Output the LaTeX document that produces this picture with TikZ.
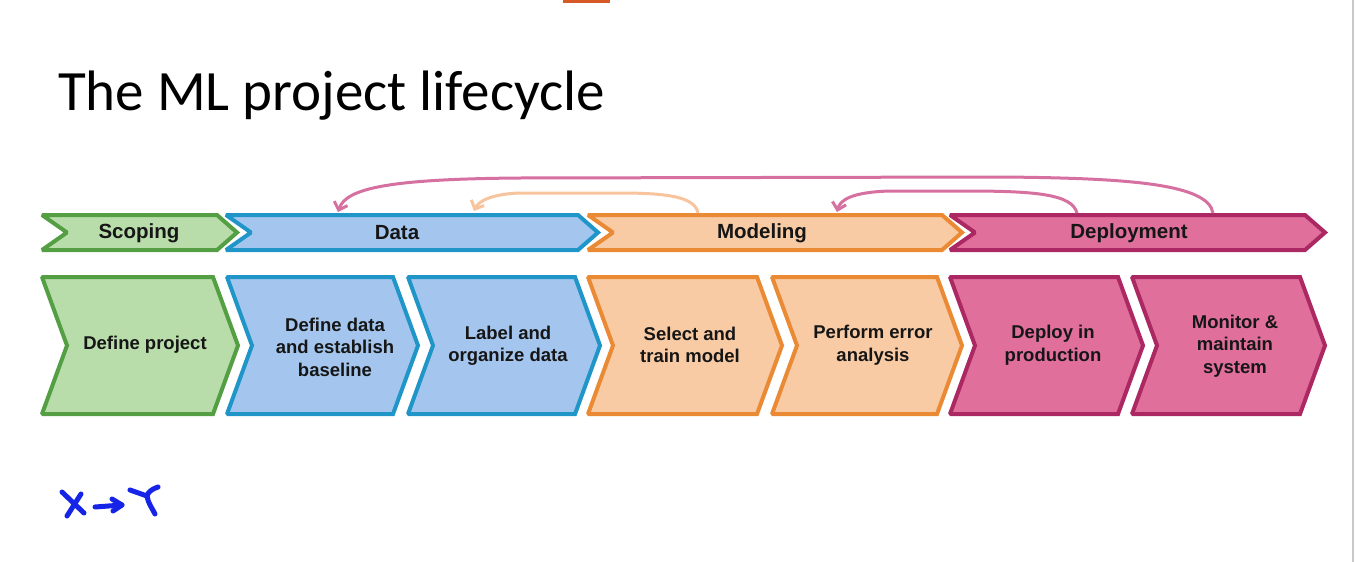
\documentclass[tikz,border=0pt]{standalone}
\usepackage{fontspec}
\setmainfont{Liberation Sans}
\newfontfamily\titlefont{Carlito}
\usetikzlibrary{arrows.meta}

\definecolor{inkdark}{RGB}{22,22,22}
\definecolor{greenfill}{RGB}{184,221,170}
\definecolor{greenline}{RGB}{84,158,68}
\definecolor{bluefill}{RGB}{164,198,238}
\definecolor{blueline}{RGB}{32,150,200}
\definecolor{orangefill}{RGB}{249,203,164}
\definecolor{orangeline}{RGB}{234,138,52}
\definecolor{pinkfill}{RGB}{224,111,156}
\definecolor{pinkline}{RGB}{172,40,98}
\definecolor{looppink}{RGB}{214,112,160}
\definecolor{looppeach}{RGB}{247,196,158}
\definecolor{penblue}{RGB}{22,36,232}
\definecolor{edgegray}{RGB}{200,200,200}
\definecolor{tabred}{RGB}{214,90,40}

% chevron: #1 style, #2 left x, #3 tip x, #4 top y, #5 bottom y, #6 notch depth, #7 tip depth
\newcommand\mlchev[7]{%
  \draw[#1] (#2,#4) -- ({#3-#7},#4) -- (#3,{(#4+#5)/2}) -- ({#3-#7},#5)
    -- (#2,#5) -- ({#2+#6},{(#4+#5)/2}) -- cycle;}

\tikzset{
  chevbase/.style={line width=4pt,line join=miter,miter limit=1.6},
  greenchev/.style={chevbase,fill=greenfill,draw=greenline},
  bluechev/.style={chevbase,fill=bluefill,draw=blueline},
  orangechev/.style={chevbase,fill=orangefill,draw=orangeline},
  pinkchev/.style={chevbase,fill=pinkfill,draw=pinkline},
  phase/.style={font=\bfseries\fontsize{20.5}{24}\selectfont,text=inkdark,anchor=center},
  task/.style={font=\bfseries\fontsize{18.5}{22.5}\selectfont,text=inkdark,align=center,anchor=center},
  loop/.style={line width=3pt,-{Straight Barb[length=7pt,width=14pt,line width=3pt]}},
  pen/.style={penblue,line width=5pt,line cap=round,line join=round}
}

\begin{document}
\begin{tikzpicture}[x=1pt,y=-1pt]
\useasboundingbox (0,0) rectangle (1366,562);
\fill[white] (0,0) rectangle (1366,562);
\draw[edgegray,line width=2pt] (1353,0) -- (1353,562);
\fill[tabred] (563,0) rectangle (610,3);

% title
\node[anchor=base west,inner sep=0pt,text=black,font=\titlefont\fontsize{57}{60}\selectfont] (title) at (58,110) {The ML project lifecycle};

% phase row
\mlchev{greenchev}{42}{237}{215}{250}{25}{20}
\mlchev{bluechev}{226}{598}{215}{250}{25}{20}
\mlchev{orangechev}{588}{962}{215}{250}{25}{20}
\mlchev{pinkchev}{950}{1325}{215}{250}{25}{20}
\node[phase] (scoping) at (139,233) {Scoping};
\node[phase] (data) at (397,233) {Data};
\node[phase] (modeling) at (762,233) {Modeling};
\node[phase] (deployment) at (1129,233) {Deployment};

% task row
\mlchev{greenchev}{42}{238}{277}{414}{25}{25}
\mlchev{bluechev}{227}{418}{277}{414}{25}{25}
\mlchev{bluechev}{408}{600}{277}{414}{25}{25}
\mlchev{orangechev}{588}{782}{277}{414}{25}{25}
\mlchev{orangechev}{772}{962}{277}{414}{25}{25}
\mlchev{pinkchev}{950}{1143}{277}{414}{25}{25}
\mlchev{pinkchev}{1132}{1325}{277}{414}{25}{25}
\node[task] (defproj) at (145,345) {Define project};
\node[task] (defdata) at (335,347) {Define data\\and establish\\baseline};
\node[task] (label) at (508,346) {Label and\\organize data};
\node[task] (train) at (690,345) {Select and\\train model};
\node[task] (erran) at (873,345) {Perform error\\analysis};
\node[task] (deploy) at (1053,345) {Deploy in\\production};
\node[task] (monitor) at (1235,346) {Monitor \&\\maintain\\system};

% feedback loops leaving from the phase bar tops
\coordinate (deployA) at (1213,213);
\coordinate (dataA) at (338,212);
\coordinate (deployB) at (1077,213);
\coordinate (modelB) at (837,212);
\coordinate (modelC) at (698,213);
\coordinate (dataC) at (474,211);

\draw[loop,looppink] (deployA) .. controls (1208,184) and (1130,178) .. (1000,177)
  -- (520,178) .. controls (390,179) and (346,188) .. (dataA);
\draw[loop,looppink] (deployB) .. controls (1072,194) and (1035,191) .. (965,191)
  -- (890,191) .. controls (852,192) and (840,200) .. (modelB);
\draw[loop,looppeach] (modelC) .. controls (695,197) and (668,193) .. (620,193)
  -- (520,193) .. controls (490,194) and (478,202) .. (dataC);

% handwritten X -> Y
\coordinate (xa) at (62,492);
\coordinate (xb) at (84,513);
\coordinate (xc) at (81,494);
\coordinate (xd) at (67,516);
\draw[pen] (xa) -- (xb);
\draw[pen] (xc) -- (xd);
\coordinate (arrS) at (95,507);
\coordinate (arrE) at (122,505);
\draw[pen] (arrS) -- (arrE);
\draw[pen] (112,499) -- (arrE) -- (113,511);
\coordinate (ya) at (130,490);
\coordinate (yj) at (147,496);
\coordinate (yb) at (158,487);
\coordinate (yc) at (155,514);
\draw[pen] (ya) -- (yj);
\draw[pen] (yb) .. controls (152,489) and (148,492) .. (yj) .. controls (148,503) and (152,508) .. (yc);
\end{tikzpicture}
\end{document}
